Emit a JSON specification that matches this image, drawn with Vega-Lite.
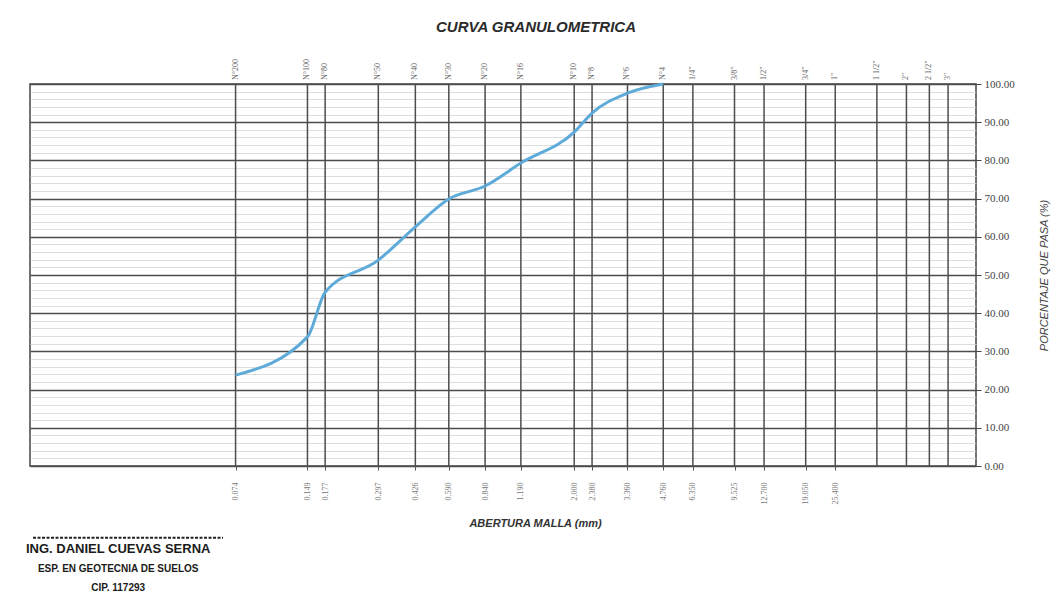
{
  "$schema": "https://vega.github.io/schema/vega-lite/v6.json",
  "width": 946,
  "height": 382,
  "autosize": {"type": "none"},
  "padding": {"left": 30, "top": 84, "right": 80, "bottom": 148},
  "background": "white",
  "config": {"view": {"stroke": "#444444", "strokeWidth": 1.5}},
  "title": {"text": "CURVA GRANULOMETRICA", "font": "Liberation Sans", "fontSize": 15, "fontStyle": "italic", "fontWeight": "bold", "color": "#2a2a2a", "anchor": "middle", "dx": 33, "offset": 24},
  "datasets": {
    "tamices": [
      {"malla": "N°200", "abertura": 0.074, "pasa": 23.8},
      {"malla": "N°100", "abertura": 0.149, "pasa": 33.8},
      {"malla": "N°80", "abertura": 0.177, "pasa": 45.5},
      {"malla": "N°50", "abertura": 0.297, "pasa": 53.9},
      {"malla": "N°40", "abertura": 0.426, "pasa": 62.6},
      {"malla": "N°30", "abertura": 0.59, "pasa": 69.9},
      {"malla": "N°20", "abertura": 0.84, "pasa": 73.3},
      {"malla": "N°16", "abertura": 1.19, "pasa": 79.3},
      {"malla": "N°10", "abertura": 2.0, "pasa": 87.4},
      {"malla": "N°8", "abertura": 2.38, "pasa": 92.4},
      {"malla": "N°6", "abertura": 3.36, "pasa": 97.6},
      {"malla": "N°4", "abertura": 4.76, "pasa": 100},
      {"malla": "1/4\"", "abertura": 6.35},
      {"malla": "3/8\"", "abertura": 9.525},
      {"malla": "1/2\"", "abertura": 12.7},
      {"malla": "3/4\"", "abertura": 19.05},
      {"malla": "1\"", "abertura": 25.4},
      {"malla": "1 1/2\"", "abertura": 38.1},
      {"malla": "2\"", "abertura": 50.8},
      {"malla": "2 1/2\"", "abertura": 63.5},
      {"malla": "3\"", "abertura": 76.2}
    ]
  },
  "data": {"name": "tamices"},
  "layer": [
    {
      "mark": {"type": "rule", "color": "#4d4d4d", "strokeWidth": 1.5},
      "encoding": {
        "x": {
          "field": "abertura", "type": "quantitative",
          "scale": {"type": "log", "domain": [0.01, 100], "nice": false},
          "axis": {
            "orient": "bottom",
            "values": [0.074, 0.149, 0.177, 0.297, 0.426, 0.59, 0.84, 1.19, 2.0, 2.38, 3.36, 4.76, 6.35, 9.525, 12.7, 19.05, 25.4],
            "tickCount": 40,
            "format": ".3f",
            "labelAngle": 270,
            "labelFont": "Liberation Serif",
            "labelFontSize": 8,
            "labelColor": "#777777",
            "labelOverlap": false,
            "labelPadding": 12,
            "ticks": true,
            "tickSize": 4,
            "tickColor": "#555555",
            "domain": false,
            "grid": false,
            "title": "ABERTURA MALLA (mm)",
            "titleFont": "Liberation Sans",
            "titleFontSize": 11,
            "titleFontStyle": "italic",
            "titleFontWeight": "bold",
            "titleColor": "#333333",
            "titleX": 505,
            "titlePadding": 13
          }
        }
      }
    },
    {
      "mark": {"type": "text", "angle": 270, "align": "left", "baseline": "middle", "dx": 4, "font": "Liberation Serif", "fontSize": 8, "color": "#666666"},
      "encoding": {
        "x": {"field": "abertura", "type": "quantitative"},
        "y": {"datum": 100},
        "text": {"field": "malla"}
      }
    },
    {
      "transform": [{"filter": "isValid(datum.pasa)"}],
      "mark": {"type": "line", "interpolate": "monotone", "color": "#5eaad9", "strokeWidth": 3},
      "encoding": {
        "x": {"field": "abertura", "type": "quantitative"},
        "y": {
          "field": "pasa", "type": "quantitative",
          "scale": {"domain": [0, 100], "nice": false},
          "axis": {
            "orient": "right",
            "values": [0, 2, 4, 6, 8, 10, 12, 14, 16, 18, 20, 22, 24, 26, 28, 30, 32, 34, 36, 38, 40, 42, 44, 46, 48, 50, 52, 54, 56, 58, 60, 62, 64, 66, 68, 70, 72, 74, 76, 78, 80, 82, 84, 86, 88, 90, 92, 94, 96, 98, 100],
            "tickCount": 60,
            "labelExpr": "datum.value % 10 === 0 ? format(datum.value, '.2f') : ''",
            "labelFont": "Liberation Serif",
            "labelFontSize": 11,
            "labelColor": "#444444",
            "labelOverlap": false,
            "labelBound": false,
            "labelPadding": 3,
            "tickSize": 5,
            "tickColor": "#444444",
            "tickOpacity": {"condition": {"test": "datum.value % 10 === 0", "value": 1}, "value": 0},
            "domain": false,
            "grid": true,
            "gridColor": {"condition": {"test": "datum.value % 10 === 0", "value": "#4d4d4d"}, "value": "#d4d4d4"},
            "gridWidth": {"condition": {"test": "datum.value % 10 === 0", "value": 1.4}, "value": 0.8},
            "title": "PORCENTAJE QUE PASA (%)",
            "titleFont": "Liberation Sans",
            "titleFontSize": 11,
            "titleFontStyle": "italic",
            "titleFontWeight": "normal",
            "titleColor": "#444444",
            "titleAngle": 270,
            "titlePadding": 35
          }
        }
      }
    },
    {
      "data": {"values": [{"linea": "firma"}]},
      "mark": {"type": "rule", "color": "#222222", "strokeWidth": 2, "strokeDash": [3, 1.5]},
      "encoding": {
        "x": {"datum": 0.0103},
        "x2": {"datum": 0.0655},
        "y": {"datum": -18.8}
      }
    },
    {
      "data": {"values": [{"texto": "ING. DANIEL CUEVAS SERNA"}]},
      "mark": {"type": "text", "font": "Liberation Sans", "fontSize": 13, "fontWeight": "bold", "color": "#1a1a1a", "align": "center", "baseline": "middle"},
      "encoding": {"x": {"datum": 0.0236}, "y": {"datum": -21.8}, "text": {"field": "texto"}}
    },
    {
      "data": {"values": [{"texto": "ESP. EN GEOTECNIA DE SUELOS"}]},
      "mark": {"type": "text", "font": "Liberation Sans", "fontSize": 10, "fontWeight": "bold", "color": "#1a1a1a", "align": "center", "baseline": "middle"},
      "encoding": {"x": {"datum": 0.0236}, "y": {"datum": -26.9}, "text": {"field": "texto"}}
    },
    {
      "data": {"values": [{"texto": "CIP. 117293"}]},
      "mark": {"type": "text", "font": "Liberation Sans", "fontSize": 10, "fontWeight": "bold", "color": "#1a1a1a", "align": "center", "baseline": "middle"},
      "encoding": {"x": {"datum": 0.0236}, "y": {"datum": -31.9}, "text": {"field": "texto"}}
    }
  ]
}
